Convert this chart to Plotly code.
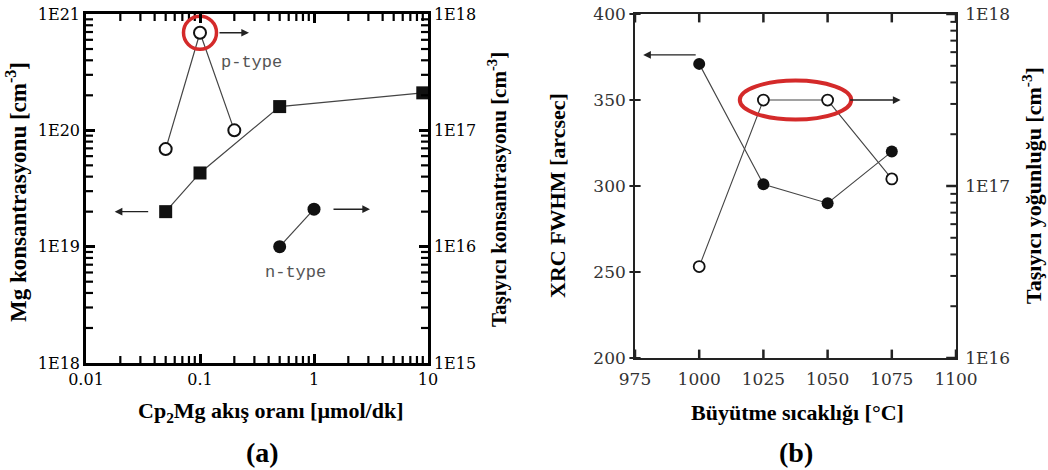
import math
import plotly.graph_objects as go

# ---------------- data: panel (a) ----------------
a_x_range = [0.01, 10]
a_yl_range = [1e18, 1e21]
a_yr_range = [1e15, 1e18]
a_x_ticks = [0.01, 0.1, 1, 10]
a_x_ticktext = ["0.01", "0.1", "1", "10"]
a_yl_ticks = [1e18, 1e19, 1e20, 1e21]
a_yl_ticktext = ["1E18", "1E19", "1E20", "1E21"]
a_yr_ticks = [1e15, 1e16, 1e17, 1e18]
a_yr_ticktext = ["1E15", "1E16", "1E17", "1E18"]

mg_flow = [0.05, 0.1, 0.5, 9.0]             # Cp2Mg flow (µmol/dk)
mg_conc = [2.0e19, 4.3e19, 1.6e20, 2.1e20]  # Mg concentration (left axis)

p_flow = [0.05, 0.1, 0.2]
p_carrier = [6.9e16, 6.9e17, 1.0e17]        # p-type carrier conc. (right axis)

n_flow = [0.5, 1.0]
n_carrier = [1.0e16, 2.1e16]                # n-type carrier conc. (right axis)

# ---------------- data: panel (b) ----------------
b_x_range = [975, 1100]
b_yl_range = [200, 400]
b_yr_range = [1e16, 1e18]
b_x_ticks = [975, 1000, 1025, 1050, 1075, 1100]
b_yl_ticks = [200, 250, 300, 350, 400]
b_yr_ticks = [1e16, 1e17, 1e18]
b_yr_ticktext = ["1E16", "1E17", "1E18"]

growth_T = [1000, 1025, 1050, 1075]
xrc_fwhm = [371, 301, 290, 320]                 # left axis
carrier_b = [3.4e16, 3.16e17, 3.16e17, 1.1e17]  # right axis

# ---------------- styling ----------------
W, H = 1048, 470
TICKFONT_A = dict(family="DejaVu Serif", size=16, color="#000")
TICKFONT_B = dict(family="DejaVu Serif", size=17, color="#333")
LINE_C = "#444"
RED = "#d42a2a"
CLEAR = "rgba(0,0,0,0)"
L = math.log10


def minor_log(lo, hi):
    return [float(m) * 10.0 ** e for e in range(lo, hi) for m in range(2, 10)]


def px(x):
    return x / W


def py(y):
    return 1 - y / H


fig = go.Figure()

# panel (a) traces
fig.add_trace(go.Scatter(
    x=mg_flow, y=mg_conc, xaxis="x", yaxis="y", mode="lines+markers",
    line=dict(color=LINE_C, width=1.2),
    marker=dict(symbol="square", size=13, color="#111")))
fig.add_trace(go.Scatter(
    x=p_flow, y=p_carrier, xaxis="x", yaxis="y2", mode="lines+markers",
    line=dict(color=LINE_C, width=1.2),
    marker=dict(symbol="circle", size=12, color="white",
                line=dict(color="#111", width=2))))
fig.add_trace(go.Scatter(
    x=n_flow, y=n_carrier, xaxis="x", yaxis="y2", mode="lines+markers",
    line=dict(color=LINE_C, width=1.2),
    marker=dict(symbol="circle", size=13, color="#111")))
# red highlight ring around the p-type maximum
fig.add_trace(go.Scatter(
    x=[p_flow[1]], y=[p_carrier[1]], xaxis="x", yaxis="y2", mode="markers",
    marker=dict(symbol="circle-open", size=33, color=RED,
                line=dict(color=RED, width=3.5)), hoverinfo="skip"))

# panel (b) traces
fig.add_trace(go.Scatter(
    x=growth_T, y=xrc_fwhm, xaxis="x2", yaxis="y3", mode="lines+markers",
    line=dict(color=LINE_C, width=1.1),
    marker=dict(symbol="circle", size=12, color="#111")))
fig.add_trace(go.Scatter(
    x=growth_T, y=carrier_b, xaxis="x2", yaxis="y4", mode="lines+markers",
    line=dict(color=LINE_C, width=1.1),
    marker=dict(symbol="circle", size=11, color="white",
                line=dict(color="#111", width=1.8))))


# ---- tick marks drawn as line markers on the frame edges
def ticks(xaxis, yaxis, xs, ys, vertical, length, width, color, clip=True):
    fig.add_trace(go.Scatter(
        x=xs, y=ys, xaxis=xaxis, yaxis=yaxis, mode="markers",
        cliponaxis=clip, hoverinfo="skip",
        marker=dict(symbol="line-ns-open" if vertical else "line-ew-open",
                    size=2 * length if clip else length, color=color,
                    line=dict(color=color, width=width))))


# panel (a) minor ticks (inside)
a_xm = minor_log(-2, 1)
a_ylm = minor_log(18, 21)
a_yrm = minor_log(15, 18)
for edge in a_yl_range:
    ticks("x", "y", a_xm, [edge] * len(a_xm), True, 5, 2.2, "#000")
ticks("x", "y", [a_x_range[0]] * len(a_ylm), a_ylm, False, 5, 2.2, "#000")
ticks("x", "y2", [a_x_range[1]] * len(a_yrm), a_yrm, False, 5, 2.2, "#000")

# panel (b) ticks
b_yrm = minor_log(16, 18)
for edge in b_yl_range:
    ticks("x2", "y3", b_x_ticks, [edge] * len(b_x_ticks), True, 6, 2.5, "#222")
ticks("x2", "y3", [b_x_range[0]] * len(b_yl_ticks), b_yl_ticks, False, 8, 2,
      "#222", clip=False)
ticks("x2", "y4", [b_x_range[1]] * len(b_yr_ticks), b_yr_ticks, False, 7, 2.5, "#222")
ticks("x2", "y4", [b_x_range[1]] * len(b_yrm), b_yrm, False, 4, 2, "#222")

a_dom_x = [px(86), px(428)]
a_dom_y = [py(363), py(14)]
b_dom_x = [px(635), px(956)]
b_dom_y = [py(358), py(14)]

BASE = dict(showgrid=False, zeroline=False, automargin=False, fixedrange=True)
LOGR = lambda r: [L(r[0]), L(r[1])]
A_AX = dict(showline=True, linecolor="#000", linewidth=2.5,
            ticks="inside", ticklen=9, tickwidth=3, tickcolor="#000",
            tickfont=TICKFONT_A, **BASE)

fig.update_layout(
    width=W, height=H,
    margin=dict(l=0, r=0, t=0, b=0, autoexpand=False),
    paper_bgcolor="white", plot_bgcolor="white",
    showlegend=False,
    # ---- panel (a): native major ticks
    xaxis=dict(type="log", range=LOGR(a_x_range), domain=a_dom_x, anchor="y",
               tickmode="array", tickvals=a_x_ticks, ticktext=a_x_ticktext,
               mirror="ticks", **A_AX),
    yaxis=dict(type="log", range=LOGR(a_yl_range), domain=a_dom_y, anchor="x",
               tickmode="array", tickvals=a_yl_ticks, ticktext=a_yl_ticktext,
               **A_AX),
    yaxis2=dict(type="log", range=LOGR(a_yr_range), overlaying="y", side="right",
                anchor="x", tickmode="array", tickvals=a_yr_ticks,
                ticktext=a_yr_ticktext, **A_AX),
    # ---- panel (b): labels only (ticks drawn above), invisible offsets
    xaxis2=dict(range=b_x_range, domain=b_dom_x, anchor="y3",
                tickmode="array", tickvals=b_x_ticks,
                showline=True, linecolor="#222", linewidth=1.6, mirror=True,
                ticks="outside", ticklen=5, tickcolor=CLEAR,
                tickfont=TICKFONT_B, **BASE),
    yaxis3=dict(range=b_yl_range, domain=b_dom_y, anchor="x2",
                tickmode="array", tickvals=b_yl_ticks,
                showline=True, linecolor="#222", linewidth=1.6,
                ticks="outside", ticklen=4, tickcolor=CLEAR,
                tickfont=TICKFONT_B, **BASE),
    yaxis4=dict(type="log", range=LOGR(b_yr_range), overlaying="y3", side="right",
                anchor="x2", tickmode="array", tickvals=b_yr_ticks,
                ticktext=b_yr_ticktext, showline=True, linecolor="#222",
                linewidth=1.6, ticks="outside", ticklen=4, tickcolor=CLEAR,
                tickfont=TICKFONT_B, **BASE),
)

ann = []


def arrow(xref, yref, x, y, xshift, ax, yshift=0, log=(True, True)):
    ann.append(dict(
        xref=xref, yref=yref,
        x=L(x) if log[0] else x, y=L(y) if log[1] else y,
        xshift=xshift, yshift=yshift, ax=ax, ay=0,
        axref="pixel", ayref="pixel", text="", showarrow=True,
        arrowhead=2, arrowsize=1.1, arrowwidth=1.4, arrowcolor="#222"))


arrow("x", "y", mg_flow[0], mg_conc[0], -51, 35)
arrow("x", "y2", p_flow[1], p_carrier[1], 49, -31)
arrow("x", "y2", n_flow[1], n_carrier[1], 56, -38)
arrow("x2", "y3", growth_T[0], xrc_fwhm[0], -56, 54, yshift=9, log=(False, False))
arrow("x2", "y4", growth_T[2], carrier_b[2], 73, -52, log=(False, True))

TYPEFONT = dict(family="Liberation Mono", size=17, color="#555")
ann.append(dict(xref="x", yref="y2", x=L(p_flow[1]), y=L(p_carrier[1]),
                xshift=51, yshift=-30, text="p-type", showarrow=False,
                font=TYPEFONT))
ann.append(dict(xref="x", yref="y2", x=L(n_flow[0]), y=L(n_carrier[0]),
                xshift=16, yshift=-26, text="n-type", showarrow=False,
                font=TYPEFONT))


def title(x, y, text, size, angle=0):
    ann.append(dict(xref="paper", yref="paper", x=px(x), y=py(y),
                    xanchor="center", yanchor="middle", text=text,
                    textangle=angle, showarrow=False,
                    font=dict(family="Liberation Serif", size=size, color="#000")))


title(270, 412, "<b>Cp<sub>2</sub>Mg akış oranı [µmol/dk]</b>", 22)
title(17, 192, "<b>Mg konsantrasyonu [cm<sup>-3</sup>]</b>", 23, -90)
title(497, 190, "<b>Taşıyıcı konsantrasyonu [cm<sup>-3</sup>]</b>", 21, -90)
title(797, 412, "<b>Büyütme sıcaklığı [°C]</b>", 22)
title(558, 196, "<b>XRC FWHM [arcsec]</b>", 22, -90)
title(1032, 186, "<b>Taşıyıcı yoğunluğu [cm<sup>-3</sup>]</b>", 22, -90)

for xx, t in [(262, "(a)"), (796, "(b)")]:
    ann.append(dict(xref="paper", yref="paper", x=px(xx), y=py(452),
                    xanchor="center", yanchor="middle", text="<b>" + t + "</b>",
                    showarrow=False,
                    font=dict(family="Liberation Serif", size=28, color="#000")))

fig.update_layout(annotations=ann)

b_mid_T = (growth_T[1] + growth_T[2]) / 2
b_ring_y = b_yl_range[0] + (L(carrier_b[1]) - L(b_yr_range[0])) * (
    (b_yl_range[1] - b_yl_range[0]) / (L(b_yr_range[1]) - L(b_yr_range[0])))
fig.add_shape(type="circle", xref="x2", yref="y3",
              x0=b_mid_T - 21.7, x1=b_mid_T + 21.7,
              y0=b_ring_y - 11.3, y1=b_ring_y + 11.3,
              line=dict(color=RED, width=4))

fig.write_html("out.html")
